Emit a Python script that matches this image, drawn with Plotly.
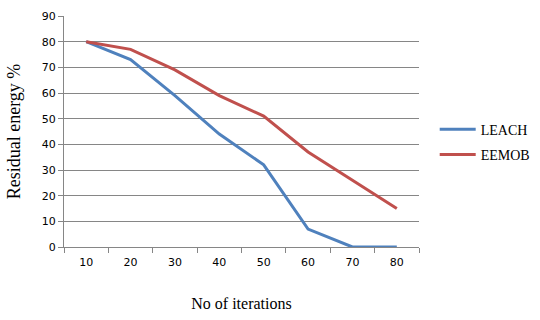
import plotly.graph_objects as go

iterations = ["10", "20", "30", "40", "50", "60", "70", "80"]
leach = [80, 73, 59, 44, 32, 7, 0, 0]
eemob = [80, 77, 69, 59, 51, 37, 26, 15]
y_ticks = [0, 10, 20, 30, 40, 50, 60, 70, 80, 90]

fig = go.Figure()
fig.add_trace(go.Scatter(x=iterations, y=leach, mode="lines", name="LEACH",
                         legendgroup="a",
                         line=dict(color="#4F81BD", width=3)))
fig.add_trace(go.Scatter(x=iterations, y=eemob, mode="lines", name="EEMOB",
                         legendgroup="b",
                         line=dict(color="#C0504D", width=3)))

fig.update_layout(
    width=540, height=320,
    margin=dict(l=64, r=121, t=10, b=73),
    paper_bgcolor="white", plot_bgcolor="white",
    showlegend=True,
    legend=dict(xref="container", yref="container", x=0.805, y=0.645,
                xanchor="left", yanchor="top",
                font=dict(family="Liberation Serif", size=14, color="black"),
                tracegroupgap=4, itemwidth=36),
    xaxis=dict(type="category", range=[-0.5, 7.5], showgrid=False,
               showline=True, linecolor="#868686", linewidth=1,
               ticks="outside", tickson="boundaries", ticklen=5, tickcolor="#868686",
               ticklabelstandoff=5,
               tickfont=dict(family="DejaVu Sans", size=11, color="black"),
               title=dict(text="No of iterations", standoff=29,
                          font=dict(family="Liberation Serif", size=16, color="black"))),
    yaxis=dict(range=[0, 90], tickvals=y_ticks, showgrid=True, gridcolor="#868686",
               gridwidth=1, showline=True, linecolor="#868686", linewidth=1,
               ticks="outside", ticklen=5, tickcolor="#868686", zeroline=False,
               tickfont=dict(family="DejaVu Sans", size=11, color="black"),
               title=dict(text="Residual energy %", standoff=16,
                          font=dict(family="Liberation Serif", size=18, color="black"))),
)

fig.write_html("out.html")
